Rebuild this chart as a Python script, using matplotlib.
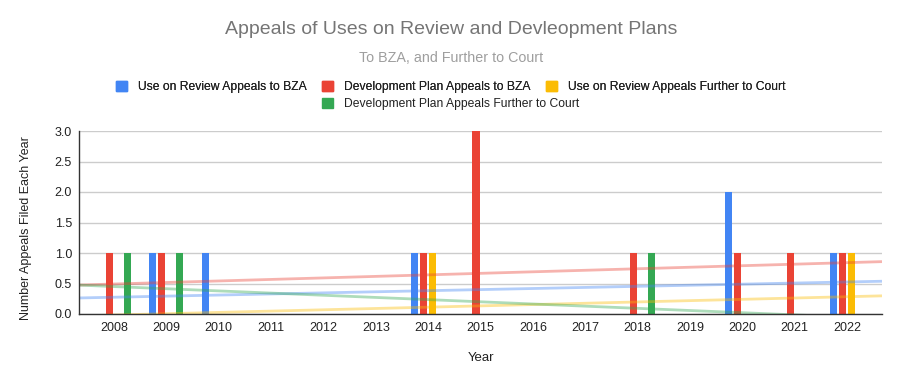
import numpy as np
import matplotlib
matplotlib.use("Agg")
import matplotlib.pyplot as plt
from matplotlib.patches import Rectangle

plt.rcParams['font.family'] = ['Liberation Sans', 'DejaVu Sans']

years = list(range(2008, 2023))
use_review_bza = [0, 1, 1, 0, 0, 0, 1, 0, 0, 0, 0, 0, 2, 0, 1]
dev_plan_bza = [1, 1, 0, 0, 0, 0, 1, 3, 0, 0, 1, 0, 1, 1, 1]
use_review_court = [0, 0, 0, 0, 0, 0, 1, 0, 0, 0, 0, 0, 0, 0, 1]
dev_plan_court = [1, 1, 0, 0, 0, 0, 0, 0, 0, 0, 1, 0, 0, 0, 0]
series_names = ["Use on Review Appeals to BZA", "Development Plan Appeals to BZA",
                "Use on Review Appeals Further to Court", "Development Plan Appeals Further to Court"]
colors = ["#4285F4", "#EA4335", "#FBBC04", "#34A853"]
series = [use_review_bza, dev_plan_bza, use_review_court, dev_plan_court]

W, H = 902, 385
fig = plt.figure(figsize=(W / 100, H / 100), dpi=100)
ax = fig.add_axes([79 / W, 1 - 314 / H, (882 - 79) / W, (314 - 131) / H])

x = np.array(years, dtype=float)
slot = 0.172
bw = 0.135
for i, (vals, c) in enumerate(zip(series, colors)):
    off = (i - 1.5) * slot
    v = np.array(vals, dtype=float)
    mask = v > 0
    ax.bar(x[mask] + off, v[mask], width=bw, color=c, zorder=3, linewidth=0)

xlim = (2007.33, 2022.67)
xx = np.array(xlim)
for vals, c in zip(series, colors):
    p = np.polyfit(x, np.array(vals, dtype=float), 1)
    ax.plot(xx, np.polyval(p, xx), color=c, alpha=0.4, lw=2, zorder=4, solid_capstyle='butt')

ax.set_xlim(*xlim)
ax.set_ylim(0, 3)
ax.set_yticks(np.arange(0, 3.01, 0.5))
ax.set_yticklabels([f"{v:.1f}" for v in np.arange(0, 3.01, 0.5)])
ax.set_xticks(years)
ax.set_xticklabels([str(y) for y in years])
ax.tick_params(axis='both', length=0, labelsize=9, colors='#222222')
ax.tick_params(axis='x', pad=6)
ax.tick_params(axis='y', pad=5)
ax.grid(axis='y', color='#cccccc', lw=1, zorder=0)
ax.set_axisbelow(True)
for s in ['top', 'right']:
    ax.spines[s].set_visible(False)
for s in ['left', 'bottom']:
    ax.spines[s].set_color('#333333')
    ax.spines[s].set_linewidth(1)
    ax.spines[s].set_zorder(5)

ax.set_xlabel("Year", fontsize=9.5, color='#222222', labelpad=13)
ax.set_ylabel("Number Appeals Filed Each Year", fontsize=9, color='#222222')
ax.yaxis.set_label_coords(-0.059, 0.47)

fig.text(0.5, 1 - 30 / H, "Appeals of Uses on Review and Devleopment Plans",
         ha='center', va='center', fontsize=14, color='#757575')
fig.text(0.5, 1 - 58 / H, "To BZA, and Further to Court",
         ha='center', va='center', fontsize=10.3, color='#9e9e9e')

handles = [Rectangle((0, 0), 1, 1, color=c) for c in colors]
leg_font = {'size': 8.75}
common = dict(frameon=False, prop=leg_font, handlelength=0.92, handleheight=0.87,
              handletextpad=0.9, borderpad=0, borderaxespad=0, labelcolor='#222222')
leg1 = fig.legend(handles[:3], series_names[:3], loc='center', bbox_to_anchor=(451 / W, 1 - 87 / H),
                  ncol=3, columnspacing=1.25, **common)
fig.add_artist(leg1)
fig.legend(handles[3:], series_names[3:], loc='center left', bbox_to_anchor=(322 / W, 1 - 104 / H),
           ncol=1, **common)

fig.savefig("out.png", dpi=100)
